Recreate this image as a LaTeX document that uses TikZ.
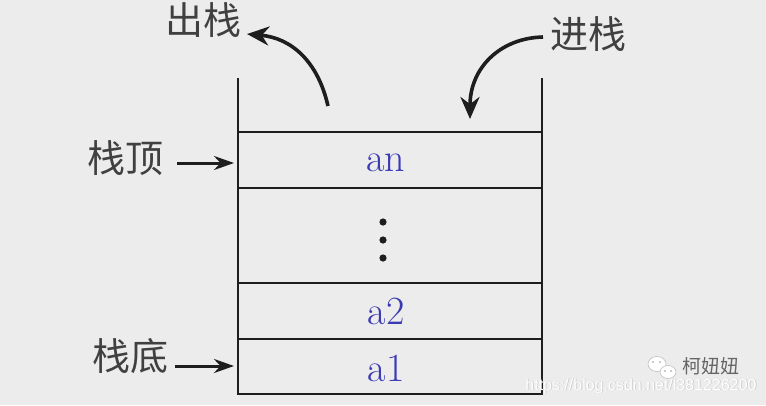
\documentclass[tikz,border=0pt]{standalone}
\usepackage{fontspec}
\newfontfamily\cjk{Noto Sans CJK SC}
\newfontfamily\wmfont{Liberation Sans}
\usetikzlibrary{arrows.meta}
\definecolor{bg}{HTML}{ECECEC}
\definecolor{itemblue}{HTML}{3A3AB4}
\definecolor{ink}{HTML}{1E1E1E}
\tikzset{
  frame/.style={line width=2pt, draw=ink},
  cell/.style={frame, minimum width=304pt, inner sep=0pt, outer sep=0pt},
  item/.style={inner sep=0pt, font=\fontsize{40}{44}\selectfont, text=itemblue},
  lbl/.style={font=\cjk\fontsize{38}{42}\selectfont, text=ink!85, inner sep=0pt},
  bigarr/.style={line width=3.6pt, draw=ink, -{Stealth[length=22pt,width=19pt]}},
  harr/.style={line width=3pt, draw=ink, -{Stealth[length=20pt,width=14pt]}},
  dotmark/.style={fill=ink},
  wmtext/.style={font=\wmfont\fontsize{16}{18}\selectfont, inner sep=0pt},
}
\begin{document}
\begin{tikzpicture}[x=1pt,y=-1pt]
\fill[bg] (0,0) rectangle (766,405);
\useasboundingbox (0,0) rectangle (766,405);

% stack cells
\node[cell, minimum height=56pt] (cTop) at (390,160) {};
\node[cell, minimum height=95pt] (cDots) at (390,235.5) {};
\node[cell, minimum height=56pt] (cA2) at (390,311) {};
\node[cell, minimum height=55pt] (cA1) at (390,366.5) {};
\node[item] (tAn) at (386,163) {an};
\node[item] (tA2) at (386,311) {a2};
\node[item] (tA1) at (386,368) {a1};

% open top walls
\coordinate (wallL) at (238,78);
\coordinate (wallR) at (542,78);
\draw[frame] (wallL) -- (cTop.north west);
\draw[frame] (wallR) -- (cTop.north east);

% vertical dots
\fill[dotmark] (383,222) circle (3.6pt);
\fill[dotmark] (383,240) circle (3.6pt);
\fill[dotmark] (383,258) circle (3.6pt);

% labels
\node[lbl] (pop) at (203,20) {出栈};
\node[lbl] (push) at (588,34) {进栈};
\node[lbl] (top) at (125,158) {栈顶};
\node[lbl] (bottom) at (130,356) {栈底};

% curved arrows
\coordinate (popS) at (328,106);
\coordinate (popE) at (247,34);
\draw[bigarr] (popS) .. controls (318,62) and (292,38) .. (popE);
\coordinate (pushS) at (543,37);
\coordinate (pushE) at (470,119);
\draw[bigarr] (pushS) .. controls (500,38) and (470,68) .. (pushE);

% pointer arrows
\coordinate (topS) at (177,163);
\draw[harr] (topS) -- ([xshift=-4pt]topS -| cTop.west);
\coordinate (botS) at (175,366);
\draw[harr] (botS) -- ([xshift=-4pt]botS -| cA1.west);

% watermark
\fill[white, draw=black!25, line width=0.6pt] (657,364) ellipse (9pt and 7.5pt);
\fill[white, draw=black!25, line width=0.6pt] (668,372) ellipse (8pt and 6.5pt);
\fill[black!40] (653,362) circle (0.9pt) (660,362) circle (0.9pt) (665,371) circle (0.8pt) (671,371) circle (0.8pt);
\node[wmtext, font=\cjk\fontsize{19}{21}\selectfont, text=black!60] (wmName) at (711,366) {柯妞妞};
\node[wmtext, text=black!22] at (641.7,386.7) {https://blog.csdn.net/l381226200};
\node[wmtext, text=white] (wmUrl) at (641,386) {https://blog.csdn.net/l381226200};
\end{tikzpicture}
\end{document}
